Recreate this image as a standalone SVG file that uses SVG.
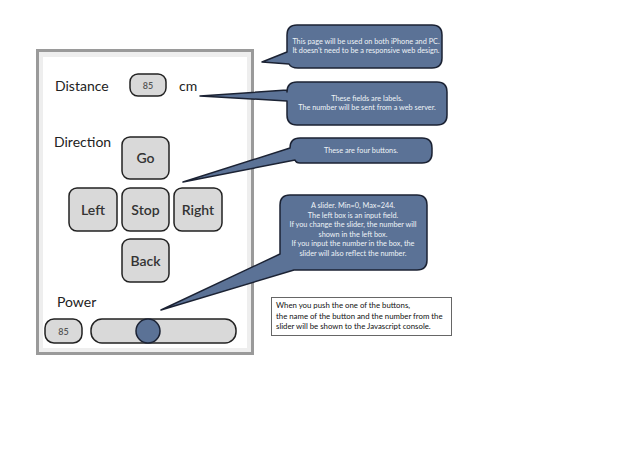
<svg xmlns="http://www.w3.org/2000/svg" width="620" height="465" viewBox="0 0 620 465">
<style>
.lbl{font-family:Lato,"Open Sans","Liberation Sans",sans-serif;fill:#222}
.btn rect{fill:#d9d9d9;stroke:#222;stroke-width:1.5}
.btn text{font-family:Lato,"Open Sans","Liberation Sans",sans-serif;font-size:14px;fill:#333;text-anchor:middle;font-weight:600}
.num{font-family:Lato,"Open Sans","Liberation Sans",sans-serif;font-size:9px;fill:#555;text-anchor:middle;font-weight:600}
.bubble path{fill:#5b7296;stroke:#1b2233;stroke-width:1.5;stroke-linejoin:round}
.bubble text{font-family:Lato,"Open Sans","Liberation Sans",sans-serif;font-size:7.3px;fill:#eef2f7;text-anchor:middle}
.note text{font-family:Lato,"Open Sans","Liberation Sans",sans-serif;font-size:7.8px;fill:#111}
</style>
<rect width="620" height="465" fill="#fff"/>
<g id="frame">
<rect x="37.5" y="50.5" width="215" height="303" fill="#eeeeee" stroke="#9a9a9a" stroke-width="3"/>
<rect x="43" y="57" width="204" height="291" fill="#fff"/>
</g>
<g id="distance">
<text class="lbl" x="55" y="91" font-size="14">Distance</text>
<rect x="130" y="74" width="36" height="22" rx="8" fill="#d9d9d9" stroke="#222" stroke-width="1.5"/>
<text class="num" x="148" y="88.5">85</text>
<text class="lbl" x="179" y="91" font-size="14">cm</text>
</g>
<g id="direction"><text class="lbl" x="54" y="147" font-size="14">Direction</text></g>
<g id="btn-go" class="btn"><rect x="122" y="137" width="47" height="42" rx="8"/><text x="145.5" y="163">Go</text></g>
<g id="btn-left" class="btn"><rect x="69" y="188" width="48" height="43" rx="8"/><text x="93" y="215">Left</text></g>
<g id="btn-stop" class="btn"><rect x="122" y="188" width="47" height="43" rx="8"/><text x="145.5" y="215">Stop</text></g>
<g id="btn-right" class="btn"><rect x="174" y="188" width="48" height="43" rx="8"/><text x="198" y="215">Right</text></g>
<g id="btn-back" class="btn"><rect x="122" y="239" width="47" height="43" rx="8"/><text x="145.5" y="266">Back</text></g>
<g id="power">
<text class="lbl" x="57" y="307" font-size="14">Power</text>
<rect x="45" y="319" width="37" height="24" rx="9" fill="#d9d9d9" stroke="#222" stroke-width="1.5"/>
<text class="num" x="63.5" y="334.5">85</text>
</g>
<g id="slider">
<rect x="91" y="319" width="145" height="24" rx="11" fill="#d9d9d9" stroke="#222" stroke-width="1.5"/>
<circle cx="148" cy="331" r="12" fill="#5b7296" stroke="#1b2233" stroke-width="1.5"/>
</g>
<g id="connectors">
<g id="bubble-page" class="bubble">
<path d="M297,25 H432 Q442,25 442,35 V58 Q442,68 432,68 H298 Q291,68 289,64 L262,62 L287,52 V35 Q287,25 297,25 Z"/>
<text x="366" y="44">This page will be used on both iPhone and PC.</text>
<text x="366" y="53">It doesn't need to be a responsive web design.</text>
</g>
<g id="bubble-labels" class="bubble">
<path d="M297,82 H437 Q447,82 447,92 V115 Q447,125 437,125 H297 Q287,125 287,115 V101 L200,96 L287,90 V92 Q287,82 297,82 Z"/>
<text x="367" y="101">These fields are labels.</text>
<text x="367" y="110">The number will be sent from a web server.</text>
</g>
<g id="bubble-buttons" class="bubble">
<path d="M300,138 H422 Q432,138 432,148 V153 Q432,163 422,163 H300 Q296,163 295,160 L183,182 L290,148 Q290,138 300,138 Z"/>
<text x="361" y="153">These are four buttons.</text>
</g>
<g id="bubble-slider" class="bubble">
<path d="M290,195 H417 Q427,195 427,205 V260 Q427,270 417,270 H294 L161,310 L280,254 V205 Q280,195 290,195 Z"/>
<text x="353" y="208">A slider. Min=0, Max=244.</text>
<text x="353" y="217.5">The left box is an input field.</text>
<text x="353" y="227">If you change the slider, the number will</text>
<text x="353" y="236.5">shown in the left box.</text>
<text x="353" y="246">If you input the number in the box, the</text>
<text x="353" y="255.5">slider will also reflect the number.</text>
</g>
</g>
<g id="note" class="note">
<rect x="271.5" y="297.5" width="180" height="38" fill="#fff" stroke="#666" stroke-width="1"/>
<text x="276" y="308">When you push the one of the buttons,</text>
<text x="276" y="318.5">the name of the button and the number from the</text>
<text x="276" y="329">slider will be shown to the Javascript console.</text>
</g>
</svg>
